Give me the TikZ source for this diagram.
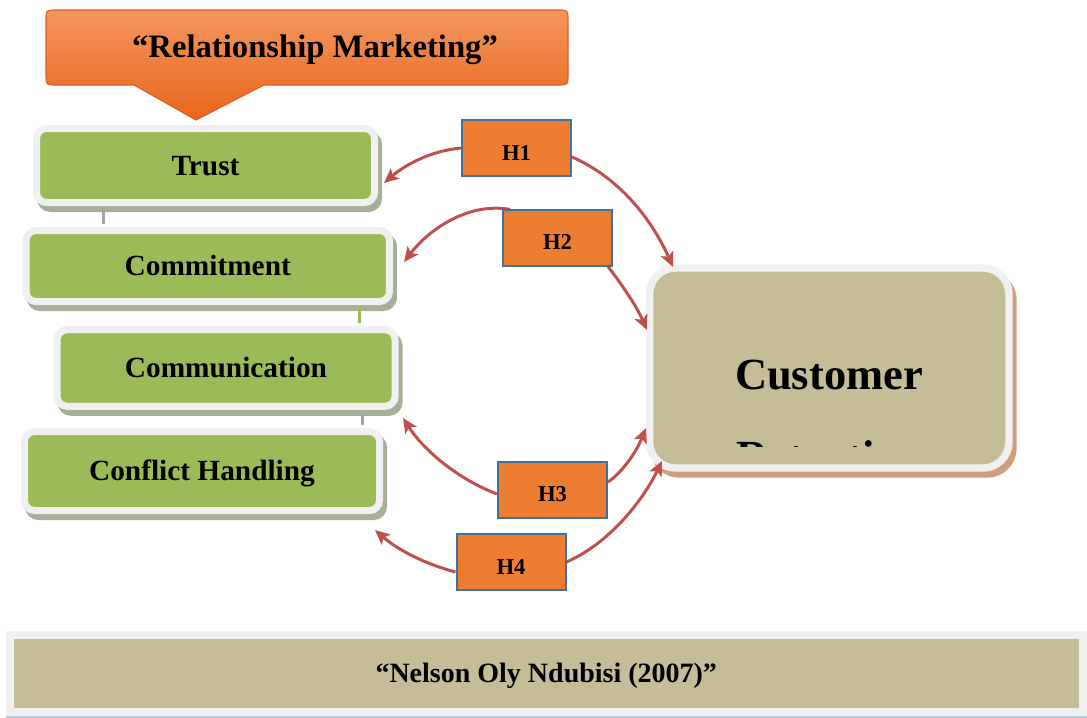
\documentclass[tikz,border=0pt]{standalone}
\usepackage{fontspec}
\setmainfont{Liberation Serif}
\usetikzlibrary{arrows.meta,calc}
\definecolor{gfill}{HTML}{9BBB59}
\definecolor{frame}{HTML}{F0F0F0}
\definecolor{gshadow}{HTML}{A6AF97}
\definecolor{tan}{HTML}{C4BD97}
\definecolor{cshadow}{HTML}{D09E7E}
\definecolor{calltop}{HTML}{F4965F}
\definecolor{callbot}{HTML}{E8661A}
\definecolor{callbord}{HTML}{E05A28}
\definecolor{hfill}{HTML}{ED7D31}
\definecolor{hbord}{HTML}{41719C}
\definecolor{arr}{HTML}{C0504D}
\definecolor{gline}{HTML}{A5A5A5}
\definecolor{bshadow}{HTML}{B8C8D4}
\tikzset{
  gbox/.style={fill=gfill, draw=frame, line width=5.25pt, rounded corners=7.5pt,
    inner sep=0pt, font=\bfseries\fontsize{22}{26}\selectfont,
    text height=14.4pt, text depth=0pt,
    preaction={draw=gshadow, fill=gshadow, transform canvas={xshift=3pt, yshift=-4.5pt}}},
  hbox/.style={fill=hfill, draw=hbord, line width=1.5pt, inner sep=0pt,
    minimum width=81.75pt, minimum height=42pt,
    font=\bfseries\fontsize{17}{20}\selectfont, text height=18.7pt, text depth=0pt},
  harrow/.style={draw=arr, line width=2.25pt, -{Stealth[length=11pt,width=10pt,inset=2.5pt]}},
  vlink/.style={line width=2.25pt},
}
\begin{document}
\begin{tikzpicture}[x=0.75pt,y=-0.75pt]
\useasboundingbox (0,0) rectangle (1087,717);

% callout
\draw[draw=callbord, line width=0.8pt, top color=calltop, bottom color=callbot]
  (134,85) -- (56,85) .. controls (46,85) .. (46,75) -- (46,20) .. controls (46,10) .. (56,10)
  -- (558,10) .. controls (568,10) .. (568,20) -- (568,75) .. controls (568,85) .. (558,85)
  -- (264,85) -- (196,120) -- cycle;
\node[anchor=base, font=\bfseries\fontsize{24.5}{28}\selectfont] (rm) at (315,58) {“Relationship Marketing”};

% green boxes
\node[gbox, minimum width=253.5pt, minimum height=55.5pt] (trust) at (205.5,165.5) {Trust};
\node[gbox, minimum width=272.6pt, minimum height=53.25pt] (commit) at (207.75,266) {Commitment};
\node[gbox, minimum width=253.5pt, minimum height=57.4pt] (comm) at (226,368) {Communication};
\node[gbox, minimum width=266.25pt, minimum height=59.25pt] (conf) at (202,471) {Conflict Handling};

% links between green boxes
\draw[vlink, gline] ($(trust.south -| 103,0)+(0,3)$) -- ($(commit.north -| 103,0)-(0,3)$);
\draw[vlink, gfill] ($(commit.south -| 359,0)+(0,3)$) -- ($(comm.north -| 359,0)-(0,3)$);
\draw[vlink, gline] ($(comm.south -| 362,0)+(0,3)$) -- ($(conf.north -| 362,0)-(0,3)$);

% customer retention
\node[fill=tan, draw=frame, line width=5.6pt, rounded corners=19.5pt, inner sep=0pt,
  minimum width=269.6pt, minimum height=150pt,
  preaction={draw=cshadow, fill=cshadow, transform canvas={xshift=3pt, yshift=-4.5pt}}]
  (cust) at (829.25,368) {};
\begin{scope}
  \clip (653,272) rectangle (1005,446.5);
  \node[anchor=base, font=\bfseries\fontsize{33.4}{38}\selectfont] (custA) at (829,389) {Customer};
  \node[anchor=base, font=\bfseries\fontsize{33.4}{38}\selectfont] (custB) at (829,471) {Retention};
\end{scope}

% tip coordinates
\coordinate (tTrust) at (384,183);
\coordinate (tC1) at (673,267);
\coordinate (tCommit) at (404,262);
\coordinate (tC2) at (647,330);
\coordinate (tComm) at (403,418);
\coordinate (tC3) at (646,428);
\coordinate (tConf) at (375,530);
\coordinate (tC4) at (662,461);

% H boxes
\coordinate (h1c) at (516.5,148);
\coordinate (h2c) at (557.5,237.5);
\coordinate (h3c) at (552.5,489.5);
\coordinate (h4c) at (511,562);
\node[hbox] (H1) at (h1c) {H1};
\node[hbox] (H2) at (h2c) {H2};
\node[hbox] (H3) at (h3c) {H3};
\node[hbox] (H4) at (h4c) {H4};

% arrows
\draw[harrow] (H1.west) .. controls (430,151) and (405,165) .. (tTrust);
\draw[harrow] ($(H1.east)+(0,9)$) .. controls (620,178) and (652,220) .. (tC1);
\draw[harrow] ($(H2.north west)+(8,1)$) .. controls (470,202) and (430,228) .. (tCommit);
\draw[harrow] ($(H2.south east)+(-5,0)$) .. controls (620,282) and (636,305) .. (tC2);
\draw[harrow] ($(H3.west)+(0,4.5)$) .. controls (460,480) and (425,452) .. (tComm);
\draw[harrow] ($(H3.east)+(0,-7.5)$) .. controls (620,474) and (635,455) .. (tC3);
\draw[harrow] ($(H4.west)+(0,10)$) .. controls (425,564) and (398,550) .. (tConf);
\draw[harrow] (H4.east) .. controls (610,543) and (643,500) .. (tC4);
% H2 again on top of the start of its arrow
\node[hbox] at (h2c) {H2};

% bottom banner
\node[fill=tan, draw=frame, line width=6pt, inner sep=0pt, minimum width=805pt, minimum height=57.75pt,
  font=\bfseries\fontsize{21}{24}\selectfont, text height=13.8pt, text depth=0pt,
  preaction={draw=bshadow, line width=6pt, transform canvas={yshift=-1.2pt}}]
  (ref) at (546.25,673.5) {“Nelson Oly Ndubisi (2007)”};
\end{tikzpicture}
\end{document}
